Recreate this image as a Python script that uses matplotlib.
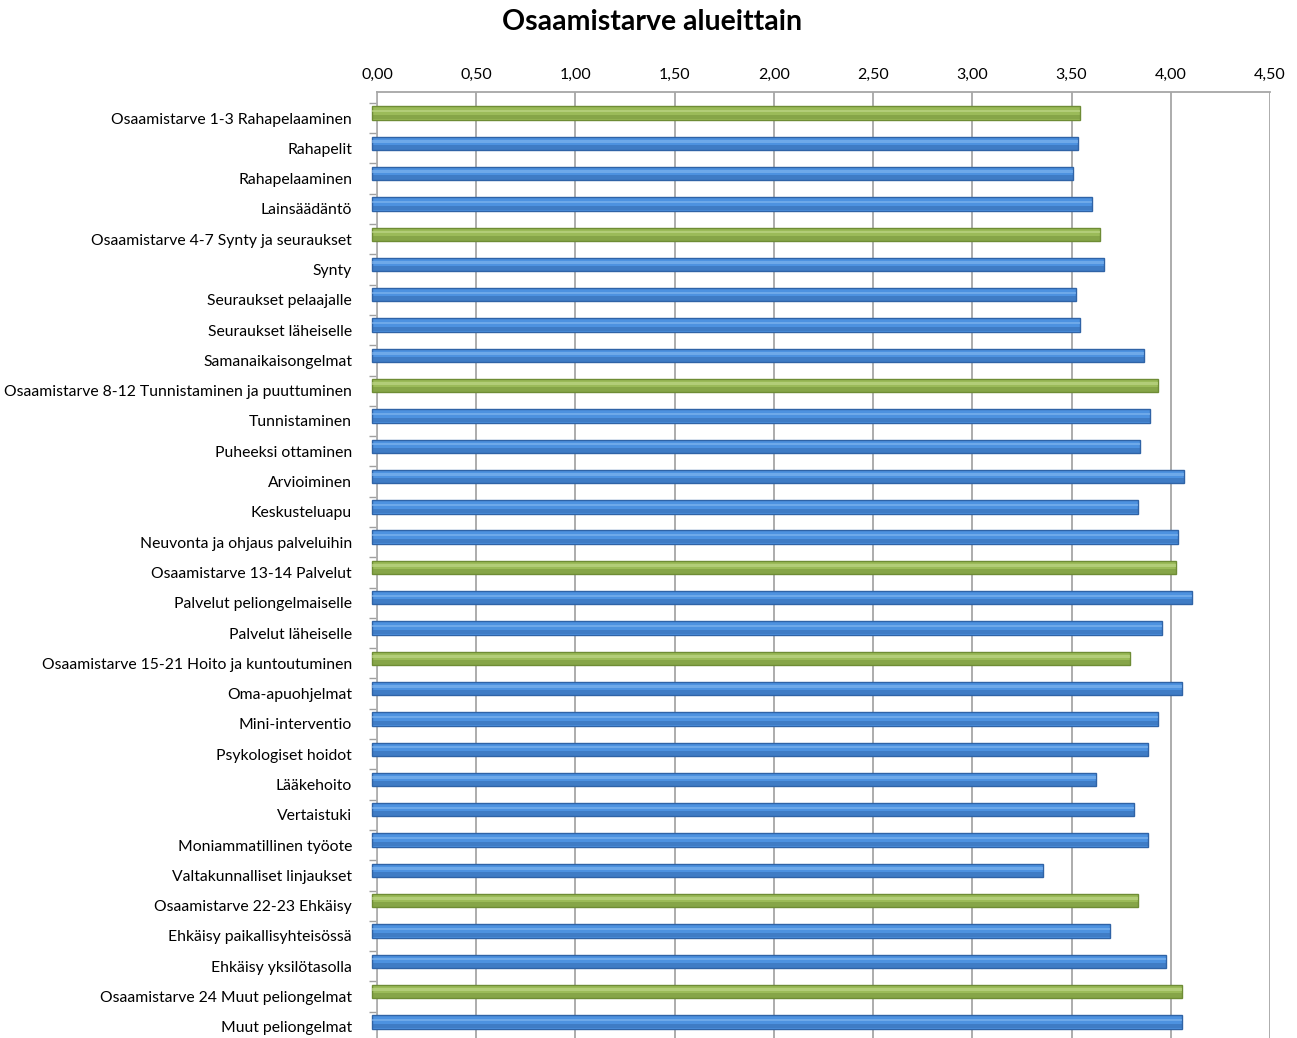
import matplotlib
matplotlib.use("Agg")
import matplotlib.pyplot as plt
import matplotlib.transforms as mtransforms
import numpy as np
from matplotlib.ticker import FixedLocator

categories = [
    "Osaamistarve 1-3 Rahapelaaminen",
    "Rahapelit",
    "Rahapelaaminen",
    "Lainsäädäntö",
    "Osaamistarve 4-7 Synty ja seuraukset",
    "Synty",
    "Seuraukset pelaajalle",
    "Seuraukset läheiselle",
    "Samanaikaisongelmat",
    "Osaamistarve 8-12 Tunnistaminen ja puuttuminen",
    "Tunnistaminen",
    "Puheeksi ottaminen",
    "Arvioiminen",
    "Keskusteluapu",
    "Neuvonta ja ohjaus palveluihin",
    "Osaamistarve 13-14 Palvelut",
    "Palvelut peliongelmaiselle",
    "Palvelut läheiselle",
    "Osaamistarve 15-21 Hoito ja kuntoutuminen",
    "Oma-apuohjelmat",
    "Mini-interventio",
    "Psykologiset hoidot",
    "Lääkehoito",
    "Vertaistuki",
    "Moniammatillinen työote",
    "Valtakunnalliset linjaukset",
    "Osaamistarve 22-23 Ehkäisy",
    "Ehkäisy paikallisyhteisössä",
    "Ehkäisy yksilötasolla",
    "Osaamistarve 24 Muut peliongelmat",
    "Muut peliongelmat",
]
values = [3.57, 3.56, 3.53, 3.63, 3.67, 3.69, 3.55, 3.57, 3.89, 3.96, 3.92,
          3.87, 4.09, 3.86, 4.06, 4.05, 4.13, 3.98, 3.82, 4.08, 3.96, 3.91,
          3.65, 3.84, 3.91, 3.38, 3.86, 3.72, 4.00, 4.08, 4.08]
is_summary = [c.startswith("Osaamistarve") for c in categories]
xticks = [0.0, 0.5, 1.0, 1.5, 2.0, 2.5, 3.0, 3.5, 4.0, 4.5]
xtick_labels = ["0,00", "0,50", "1,00", "1,50", "2,00", "2,50", "3,00", "3,50", "4,00", "4,50"]
title = "Osaamistarve alueittain"

plt.rcParams['font.family'] = ['Lato', 'DejaVu Sans']

W, H = 1297, 1038
fig = plt.figure(figsize=(W / 100, H / 100), dpi=100)
left, right, top, bottom = 377, 1270, 92, 1042
ax = fig.add_axes([left / W, 1 - bottom / H, (right - left) / W, (bottom - top) / H])

y = np.arange(len(categories))
blue_face, blue_edge, blue_light = "#4d92e0", "#2f63a6", "#85b9f0"
green_face, green_edge, green_light = "#9bbb59", "#6e8c35", "#c3da8e"
faces = [green_face if s else blue_face for s in is_summary]
edges = [green_edge if s else blue_edge for s in is_summary]
lights = [green_light if s else blue_light for s in is_summary]

# 3D-like projection: bars sit slightly up-left of the back plane
shift = mtransforms.ScaledTranslation(-0.05, 0.05, fig.dpi_scale_trans)
tr = ax.transData + shift

bh = 0.44
layers = [
    ax.barh(y, values, height=bh, color=faces, edgecolor=edges, linewidth=1.0, zorder=3, transform=tr),
    ax.barh(y + bh * 0.3, values, height=bh * 0.35, color=edges, alpha=0.45, linewidth=0, zorder=4, transform=tr),
    ax.barh(y - bh * 0.15, values, height=bh * 0.18, color=lights, alpha=0.6, linewidth=0, zorder=4, transform=tr),
]
for container in layers:
    for p in container.patches:
        p.set_clip_on(False)

ax.set_xlim(0, 4.5)
ax.set_ylim(len(categories) - 0.5, -0.86)
ax.xaxis.tick_top()
ax.set_xticks(xticks)
ax.set_xticklabels(xtick_labels, fontsize=11.5)
ax.tick_params(axis='x', length=0, pad=7)
ax.set_yticks(y)
ax.set_yticklabels(categories, fontsize=11.3)
ax.tick_params(axis='y', which='major', length=0, pad=18)
ax.yaxis.set_minor_locator(FixedLocator(np.arange(-0.5, len(categories), 1.0)))
ax.tick_params(axis='y', which='minor', length=6, color="#a0a0a0", width=1)

ax.grid(axis='x', color="#a6a6a6", linewidth=1.3, zorder=0)
for s in ["right", "bottom"]:
    ax.spines[s].set_visible(False)
ax.spines["top"].set_color("#a6a6a6")
ax.spines["top"].set_linewidth(1.3)
ax.spines["left"].set_color("#b0b0b0")
ax.spines["left"].set_linewidth(1.3)

fig.text(652 / W, 1 - 22 / H, title, ha="center", va="center", fontsize=20.5, fontweight="bold")

fig.savefig("out.png", dpi=100)
